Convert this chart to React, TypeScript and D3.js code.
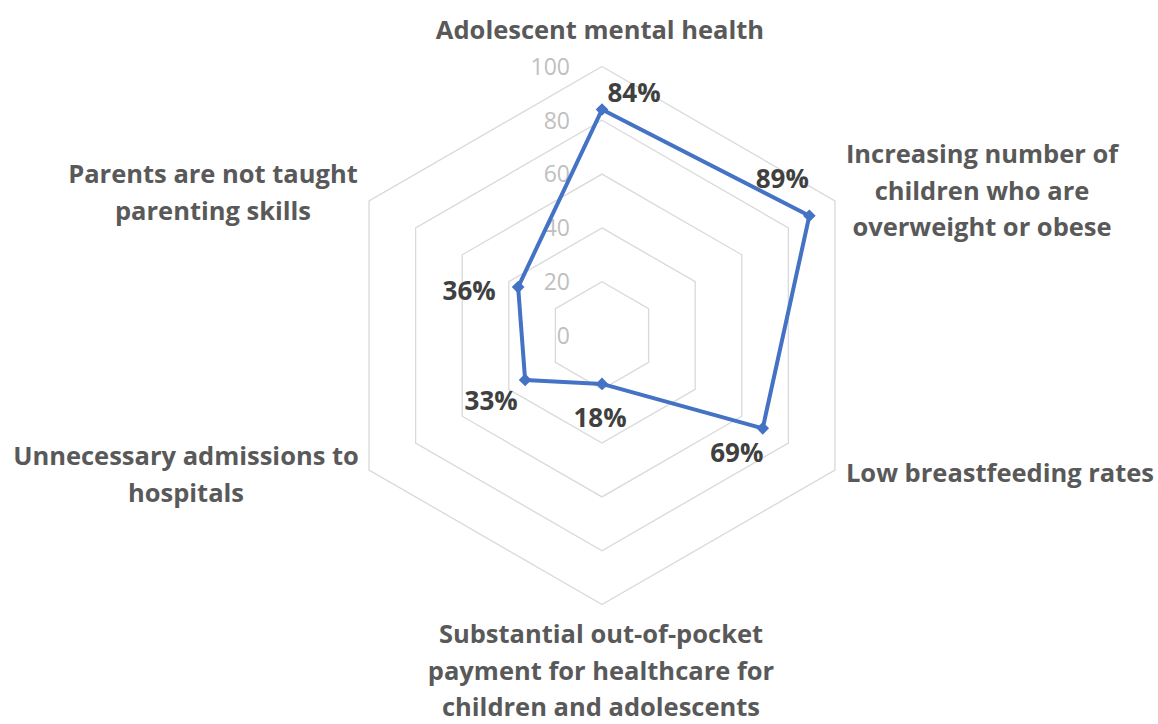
import React, { useEffect } from "react";
import * as d3 from "d3";

// ---- data ----
const categoryLines: string[][] = [
  ["Adolescent mental health"],
  ["Increasing number of", "children who are", "overweight or obese"],
  ["Low breastfeeding rates"],
  ["Substantial out-of-pocket", "payment for healthcare for", "children and adolescents"],
  ["Unnecessary admissions to", "hospitals"],
  ["Parents are not taught", "parenting skills"],
];
const values: number[] = [84, 89, 69, 18, 33, 36];
const tickValues: number[] = [0, 20, 40, 60, 80, 100];

// ---- layout ----
const W = 1158;
const H = 724;
const cx = 602;
const cy = 335.5;
const R = 269;
const lineGap = 36.6;

// label anchor (centre x, first baseline y) for each category
const labelAnchors: [number, number][] = [
  [600, 39],
  [982, 163],
  [1000, 482],
  [601, 643],
  [186, 465],
  [213, 183],
];
// data label offsets from the point (centre of text)
const dataLabelOffsets: [number, number][] = [
  [32, -17],
  [-27, -37],
  [-26, 24],
  [-2, 34],
  [-34, 21],
  [-49, 4],
];

const FONT = "'Open Sans', Lato, sans-serif";

export default function App() {
  useEffect(() => {
    document.body.style.margin = "0";
  }, []);

  const n = values.length;
  const r = d3.scaleLinear().domain([0, 100]).range([0, R]);
  const angle = (i: number) => (i * 2 * Math.PI) / n;
  const pt = (i: number, v: number): [number, number] => [
    cx + r(v) * Math.sin(angle(i)),
    cy - r(v) * Math.cos(angle(i)),
  ];

  const radial = d3
    .lineRadial<number>()
    .angle((_, i) => angle(i))
    .radius((d) => r(d))
    .curve(d3.curveLinearClosed);

  const gridPath = (t: number) => radial(new Array(n).fill(t)) as string;
  const dataPath = radial(values) as string;
  const marker = d3.symbol(d3.symbolSquare, 80)() as string;

  return (
    <svg
      width={W}
      height={H}
      style={{ position: "absolute", left: 0, top: 0, background: "#fff" }}
      fontFamily={FONT}
    >
      <g transform={`translate(${cx},${cy})`}>
        {tickValues
          .filter((t) => t > 0)
          .map((t) => (
            <path key={t} d={gridPath(t)} fill="none" stroke="#d9d9d9" strokeWidth={1.3} />
          ))}
      </g>
      {tickValues.map((t) => (
        <text
          key={t}
          x={570}
          y={cy - r(t)}
          dy="0.36em"
          textAnchor="end"
          fontSize={23}
          fill="#bfbfbf"
        >
          {t}
        </text>
      ))}
      <g transform={`translate(${cx},${cy})`}>
        <path d={dataPath} fill="none" stroke="#4472C4" strokeWidth={4} strokeLinejoin="round" />
      </g>
      {values.map((v, i) => {
        const [x, y] = pt(i, v);
        return (
          <path key={i} d={marker} transform={`translate(${x},${y}) rotate(45)`} fill="#4472C4" />
        );
      })}
      {values.map((v, i) => {
        const [x, y] = pt(i, v);
        const [dx, dy] = dataLabelOffsets[i];
        return (
          <text
            key={i}
            x={x + dx}
            y={y + dy}
            dy="0.36em"
            textAnchor="middle"
            fontSize={26}
            fontWeight="bold"
            fill="#404040"
          >
            {v}%
          </text>
        );
      })}
      {categoryLines.map((lines, i) => {
        const [ax, ay] = labelAnchors[i];
        return (
          <text key={i} textAnchor="middle" fontSize={25.5} fontWeight="bold" fill="#595959">
            {lines.map((l, j) => (
              <tspan key={j} x={ax} y={ay + j * lineGap}>
                {l}
              </tspan>
            ))}
          </text>
        );
      })}
    </svg>
  );
}
